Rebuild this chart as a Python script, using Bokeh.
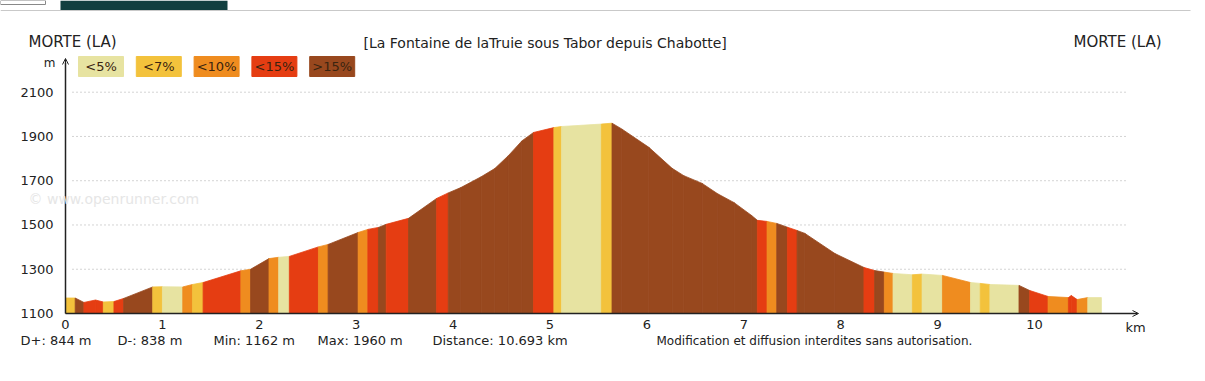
from bokeh.plotting import figure
from bokeh.models import Range1d, FixedTicker, Label, Arrow, OpenHead, ColumnDataSource
from bokeh.embed import file_html
from bokeh.resources import INLINE
from bokeh.core.properties import value

# ---------------- data ----------------
dist_km = [0.00, 0.10, 0.19, 0.31, 0.39, 0.50, 0.60, 0.90, 1.00, 1.21,
           1.31, 1.42, 1.81, 1.91, 2.10, 2.20, 2.31, 2.61, 2.71, 3.02,
           3.12, 3.23, 3.31, 3.54, 3.83, 3.95, 4.08, 4.29, 4.43, 4.57,
           4.71, 4.83, 5.04, 5.12, 5.53, 5.64, 5.74, 6.02, 6.26, 6.38,
           6.57, 6.73, 6.90, 7.08, 7.14, 7.24, 7.34, 7.45, 7.55, 7.63,
           7.94, 8.24, 8.35, 8.45, 8.54, 8.74, 8.84, 9.05, 9.34, 9.44,
           9.54, 9.84, 9.95, 10.14, 10.35, 10.38, 10.44, 10.55, 10.69]
elev_m = [1170, 1170, 1150, 1161, 1152, 1154, 1168, 1220, 1221, 1220,
          1231, 1240, 1293, 1300, 1348, 1354, 1358, 1401, 1412, 1466,
          1480, 1489, 1503, 1530, 1620, 1645, 1669, 1718, 1755, 1813,
          1880, 1918, 1940, 1945, 1956, 1960, 1934, 1851, 1756, 1723,
          1688, 1641, 1601, 1543, 1521, 1516, 1507, 1490, 1475, 1462,
          1371, 1308, 1294, 1287, 1281, 1275, 1278, 1272, 1240, 1236,
          1231, 1227, 1204, 1177, 1172, 1181, 1163, 1172, 1172]
# grade class of each segment between consecutive points
# 0: <5%  1: <7%  2: <10%  3: <15%  4: >15%
grade_class = [1, 4, 3, 3, 1, 3, 4, 1, 0, 2,
               1, 3, 2, 4, 2, 0, 3, 2, 4, 2,
               3, 4, 3, 4, 3, 4, 4, 4, 4, 4,
               4, 3, 1, 0, 1, 4, 4, 4, 4, 4,
               4, 4, 4, 4, 3, 2, 4, 3, 4, 4,
               4, 3, 4, 2, 0, 1, 0, 2, 0, 1,
               0, 4, 3, 2, 3, 3, 2, 0]
legend_labels = ["<5%", "<7%", "<10%", "<15%", ">15%"]
legend_colors = ["#E7E3A1", "#F3C23C", "#EF8C1F", "#E53D12", "#98481E"]
y_ticks = [1100, 1300, 1500, 1700, 1900, 2100]
grid_levels = [1300, 1500, 1700, 1900, 2100]
x_ticks = [0, 1, 2, 3, 4, 5, 6, 7, 8, 9, 10]
stats = ["D+: 844 m", "D-: 838 m", "Min: 1162 m", "Max: 1960 m", "Distance: 10.693 km"]
title_text = "[La Fontaine de laTruie sous Tabor depuis Chabotte]"
start_name = "MORTE (LA)"
end_name = "MORTE (LA)"
notice = "Modification et diffusion interdites sans autorisation."
watermark = "\u00a9 www.openrunner.com"

assert len(dist_km) == len(elev_m)
assert len(grade_class) == len(dist_km) - 1

# ---------------- layout ----------------
W, H = 1200, 372
X0_PX, Y0_PX = 65, 313          # page px of (0 km, 1100 m)
PX_PER_KM = 96.9
PX_PER_M = 0.2213
Y0 = 1100


def px2x(px):
    return (px - X0_PX) / PX_PER_KM


def py2y(py):
    return Y0 + (Y0_PX - py) / PX_PER_M


FONT = "DejaVu Sans"
DARK = "#222222"

p = figure(width=W, height=H, output_backend="svg", toolbar_location=None,
           x_range=Range1d(px2x(0), px2x(W)), y_range=Range1d(py2y(H), py2y(0)),
           min_border_left=0, min_border_right=0,
           min_border_top=0, min_border_bottom=0)
p.outline_line_color = None
p.xgrid.visible = False
p.ygrid.visible = False
p.background_fill_color = "white"
p.border_fill_color = "white"

# screenshot header remnants
p.segment(x0=[px2x(0)], x1=[px2x(1190)], y0=[py2y(10)], y1=[py2y(10)],
          line_color="#c9c9c9", line_width=1)
p.quad(left=[px2x(60)], right=[px2x(227)], top=[py2y(0)], bottom=[py2y(9.5)],
       fill_color="#123f40", line_color=None)
p.quad(left=[px2x(0)], right=[px2x(45)], top=[py2y(0)], bottom=[py2y(4)],
       fill_color="white", line_color="#888888", line_width=1)

# dotted grid lines
p.segment(x0=[px2x(72)] * len(grid_levels), x1=[px2x(1127)] * len(grid_levels),
          y0=grid_levels, y1=grid_levels, line_color="#a8a8a8",
          line_width=1, line_dash="1 3")

# profile patches
xs, ys, cols = [], [], []
for i, c in enumerate(grade_class):
    xs.append([dist_km[i], dist_km[i], dist_km[i + 1], dist_km[i + 1]])
    ys.append([Y0, elev_m[i], elev_m[i + 1], Y0])
    cols.append(legend_colors[c])
src = ColumnDataSource(dict(xs=xs, ys=ys, color=cols))
p.patches("xs", "ys", source=src, fill_color="color", line_color="color",
          line_width=0.8)

# axes (fixed at 0 km / 1100 m)
for ax in (p.xaxis[0], p.yaxis[0]):
    ax.axis_line_color = DARK
    ax.axis_line_width = 1.5
    ax.major_tick_out = 0
    ax.major_tick_in = 0
    ax.minor_tick_out = 0
    ax.minor_tick_in = 0
    ax.major_label_text_font = FONT
    ax.major_label_text_font_size = "13px"
    ax.major_label_text_color = DARK
p.yaxis[0].fixed_location = 0
p.xaxis[0].fixed_location = Y0
p.yaxis[0].ticker = FixedTicker(ticks=y_ticks)
p.yaxis[0].bounds = (Y0, py2y(62))
p.yaxis[0].major_label_text_color = None
p.xaxis[0].ticker = FixedTicker(ticks=x_ticks)
p.xaxis[0].bounds = (0, px2x(1136))
p.xaxis[0].major_label_standoff = 6

# y tick labels sitting on their grid lines
p.text(x=[px2x(53)] * len(y_ticks), y=y_ticks, text=[str(t) for t in y_ticks],
       text_font=value(FONT), text_font_size="13px", text_color=DARK,
       text_align="right", text_baseline="alphabetic")

# axis arrow heads
p.add_layout(Arrow(end=OpenHead(size=6, line_width=1, line_color=DARK),
                   x_start=0, y_start=py2y(70), x_end=0, y_end=py2y(58),
                   line_width=1, line_color=DARK))
p.add_layout(Arrow(end=OpenHead(size=6, line_width=1, line_color=DARK),
                   x_start=px2x(1125), y_start=Y0, x_end=px2x(1138), y_end=Y0,
                   line_width=1, line_color=DARK))


def label(px, py, text, size="13px", align="left", color=DARK, baseline="middle"):
    p.add_layout(Label(x=px2x(px), y=py2y(py), text=text, text_font=FONT,
                       text_font_size=size, text_color=color,
                       text_align=align, text_baseline=baseline))


# watermark
label(28, 198, watermark, size="14px", color="#e6e6e6")

# header texts
label(28, 41, start_name, size="15px")
label(363, 42, title_text, size="14px")
label(1073, 41, end_name, size="15px")
label(55, 62, "m", size="12px", align="right")

# legend boxes
box_w, box_top, box_bot = 45, 56, 76
lefts = [78 + i * 57.8 for i in range(len(legend_labels))]
p.quad(left=[px2x(l) for l in lefts], right=[px2x(l + box_w) for l in lefts],
       top=[py2y(box_top)] * len(lefts), bottom=[py2y(box_bot)] * len(lefts),
       fill_color=legend_colors, line_color=legend_colors)
for l, t in zip(lefts, legend_labels):
    label(l + box_w / 2, (box_top + box_bot) / 2, t, size="13px",
          align="center", color="#3a2410")

# km unit
label(1135, 327, "km", size="13px", align="center")

# statistics line
for px, t in zip([20, 117, 213, 317, 432], stats):
    label(px, 340, t, size="13px")
label(656, 340, notice, size="12px")

open("out.html", "w").write(file_html(p, INLINE))
